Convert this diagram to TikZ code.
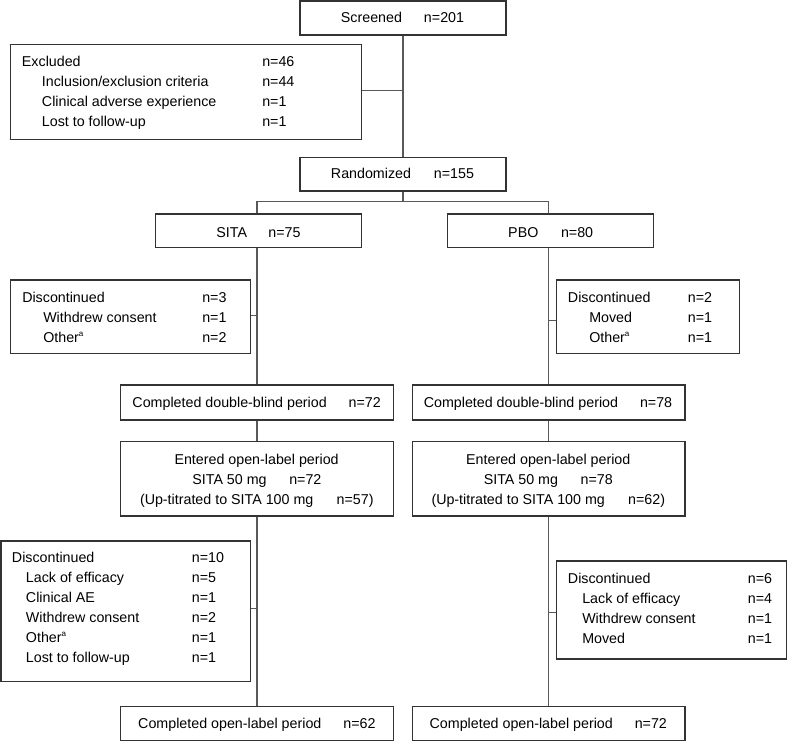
\documentclass[tikz,border=0pt]{standalone}
\usepackage{fontspec}
\setmainfont{Liberation Sans}
\usetikzlibrary{fit,calc}
\newcommand{\supa}{\raisebox{4.2pt}{\fontsize{6}{6}\selectfont a}}
\tikzset{
  boxn/.style={draw=black!80, line width=1pt, fill=white, inner sep=0pt, rectangle},
  lnk/.style={draw=black!65, line width=0.8pt},
  txt/.style={inner sep=0pt, anchor=base west, font=\fontsize{10.7}{13}\selectfont},
  ctxt/.style={inner sep=0pt, anchor=base, font=\fontsize{10.7}{13}\selectfont},
}
\begin{document}
\begin{tikzpicture}[x=0.75pt,y=-0.75pt]
\useasboundingbox (0,0) rectangle (787,741);

% boxes
\node[boxn, fit={(300,1) (506,35)}] (scr) {};
\node[boxn, fit={(10.7,44.3) (361.7,139.3)}] (exc) {};
\node[boxn, fit={(300,157.3) (506,191)}] (rnd) {};
\node[boxn, fit={(155.7,214) (361.7,247.7)}] (sita) {};
\node[boxn, fit={(447.7,214) (653.7,247.7)}] (pbo) {};
\node[boxn, fit={(10.7,280) (250.3,353.3)}] (dA) {};
\node[boxn, fit={(556.3,280) (739.3,353.7)}] (dB) {};
\node[boxn, fit={(120.7,385) (393.3,420)}] (cdA) {};
\node[boxn, fit={(412.3,385) (685,420)}] (cdB) {};
\node[boxn, fit={(120.7,441.7) (393.3,516)}] (eoA) {};
\node[boxn, fit={(412.3,441.7) (685,516)}] (eoB) {};
\node[boxn, fit={(1,541) (250.7,681.7)}] (dC) {};
\node[boxn, fit={(556.3,561) (786.2,659)}] (dD) {};
\node[boxn, fit={(120.7,706.7) (393.3,740.2)}] (coA) {};
\node[boxn, fit={(412.3,706.7) (685,740.2)}] (coB) {};

% connectors
\coordinate (br) at (403,201.3);
\draw[lnk] (scr.south) -- (rnd.north);
\draw[lnk] ($(exc.east)+(0,-1.1)$) -- ($(exc.east -| scr.south)+(0,-1.1)$);
\draw[lnk] (rnd.south) -- (br);
\draw[lnk] (br -| cdA.north) -- (br -| cdB.north);
\draw[lnk] (br -| cdA.north) -- (sita.north -| cdA.north);
\draw[lnk] (br -| cdB.north) -- (pbo.north -| cdB.north);
\draw[lnk] (sita.south -| cdA.north) -- (cdA.north);
\draw[lnk] (pbo.south -| cdB.north) -- (cdB.north);
\draw[lnk] (cdA.south) -- (eoA.north);
\draw[lnk] (cdB.south) -- (eoB.north);
\draw[lnk] (eoA.south) -- (coA.north);
\draw[lnk] (eoB.south) -- (coB.north);
\draw[lnk] ($(dA.east)+(0,-0.7)$) -- ($(dA.east -| cdA.north)+(0,-0.7)$);
\draw[lnk] ($(dB.west)+(0,3.2)$) -- ($(dB.west -| cdB.north)+(0,3.2)$);
\draw[lnk] ($(dC.east)+(0,-2.6)$) -- ($(dC.east -| cdA.north)+(0,-2.6)$);
\draw[lnk] ($(dD.west)+(0,2.3)$) -- ($(dD.west -| cdB.north)+(0,2.3)$);

% single-line texts
\node[ctxt] (tscr) at (402.5,22.5) {Screened\hspace{16.5pt}n=201};
\node[ctxt] (trnd) at (402.5,179) {Randomized\hspace{17.2pt}n=155};
\node[ctxt] (tsita) at (258.5,238) {SITA\hspace{16pt}n=75};
\node[ctxt] (tpbo) at (550.7,238) {PBO\hspace{17pt}n=80};
\node[ctxt] (tcdA) at (256.7,407.7) {Completed double-blind period\hspace{16.5pt}n=72};
\node[ctxt] (tcdB) at (548,407.7) {Completed double-blind period\hspace{16.5pt}n=78};
\node[ctxt] (tcoA) at (256.9,728.5) {Completed open-label period\hspace{16.5pt}n=62};
\node[ctxt] (tcoB) at (548.3,728.5) {Completed open-label period\hspace{16.5pt}n=72};

% open-label entries
\node[ctxt] (eA1) at (256.6,464.3) {Entered open-label period};
\node[ctxt] (eA2) at (256.9,484.3) {SITA 50 mg\hspace{17pt}n=72};
\node[ctxt] (eA3) at (256.8,504.3) {(Up-titrated to SITA 100 mg\hspace{17.5pt}n=57)};
\node[ctxt] (eB1) at (548.3,464.3) {Entered open-label period};
\node[ctxt] (eB2) at (548.3,484.3) {SITA 50 mg\hspace{17pt}n=78};
\node[ctxt] (eB3) at (548.3,504.3) {(Up-titrated to SITA 100 mg\hspace{17.5pt}n=62)};

% Excluded
\node[txt] (x1) at (21.7,67) {Excluded};
\node[txt] (x2) at (41.7,87) {Inclusion/exclusion criteria};
\node[txt] (x3) at (41.7,107) {Clinical adverse experience};
\node[txt] (x4) at (41.7,127) {Lost to follow-up};
\node[txt] (xn1) at (262,67) {n=46};
\node[txt] (xn2) at (262,87) {n=44};
\node[txt] (xn3) at (262,107) {n=1};
\node[txt] (xn4) at (262,127) {n=1};

% Discontinued A
\node[txt] (a1) at (22,302.5) {Discontinued};
\node[txt] (a2) at (43,322.3) {Withdrew consent};
\node[txt] (a3) at (43,342.2) {Other\supa};
\node[txt] (an1) at (202,302.5) {n=3};
\node[txt] (an2) at (202,322.3) {n=1};
\node[txt] (an3) at (202,342.2) {n=2};

% Discontinued B
\node[txt] (b1) at (567.7,302.5) {Discontinued};
\node[txt] (b2) at (589,322.3) {Moved};
\node[txt] (b3) at (589,342.2) {Other\supa};
\node[txt] (bn1) at (687.7,302.5) {n=2};
\node[txt] (bn2) at (687.7,322.3) {n=1};
\node[txt] (bn3) at (687.7,342.2) {n=1};

% Discontinued C
\node[txt] (c1) at (11.7,562.3) {Discontinued};
\node[txt] (c2) at (25.7,582.3) {Lack of efficacy};
\node[txt] (c3) at (25.7,602.3) {Clinical AE};
\node[txt] (c4) at (25.7,622.3) {Withdrew consent};
\node[txt] (c5) at (25.7,642.3) {Other\supa};
\node[txt] (c6) at (25.7,662.3) {Lost to follow-up};
\node[txt] (cn1) at (191.7,562.3) {n=10};
\node[txt] (cn2) at (191.7,582.3) {n=5};
\node[txt] (cn3) at (191.7,602.3) {n=1};
\node[txt] (cn4) at (191.7,622.3) {n=2};
\node[txt] (cn5) at (191.7,642.3) {n=1};
\node[txt] (cn6) at (191.7,662.3) {n=1};

% Discontinued D
\node[txt] (d1) at (567.7,583) {Discontinued};
\node[txt] (d2) at (582,603) {Lack of efficacy};
\node[txt] (d3) at (582,623) {Withdrew consent};
\node[txt] (d4) at (582,643) {Moved};
\node[txt] (dn1) at (747.7,583) {n=6};
\node[txt] (dn2) at (747.7,603) {n=4};
\node[txt] (dn3) at (747.7,623) {n=1};
\node[txt] (dn4) at (747.7,643) {n=1};
\end{tikzpicture}
\end{document}
